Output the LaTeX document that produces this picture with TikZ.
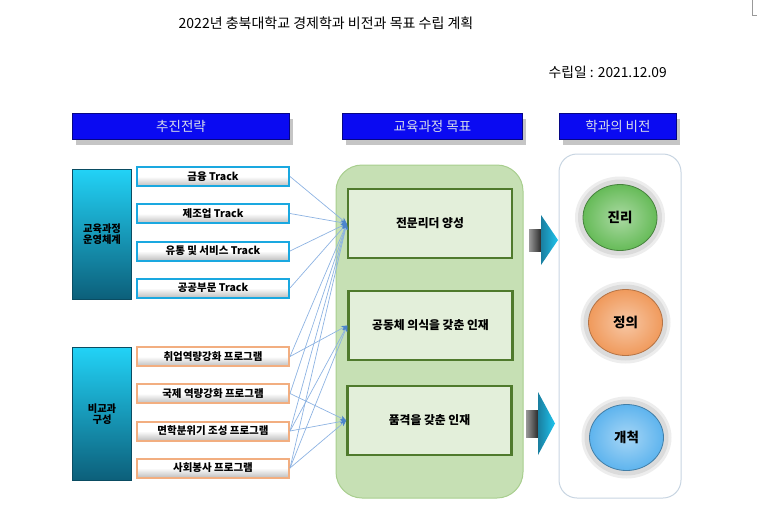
\documentclass[tikz,border=0pt]{standalone}
\usepackage{fontspec}
\setmainfont{Noto Sans CJK KR}
\usetikzlibrary{arrows.meta, shapes.geometric, shadows}
\definecolor{hdblue}{HTML}{0A0AF2}
\definecolor{hdtext}{HTML}{D6DCEA}
\definecolor{trkcyan}{HTML}{1AA8E0}
\definecolor{prgorange}{HTML}{F2AE80}
\definecolor{sidetop}{HTML}{22D2F6}
\definecolor{sidebot}{HTML}{0C5F7A}
\definecolor{goalfill}{HTML}{E3EFDA}
\definecolor{goaldraw}{HTML}{4F7A2C}
\definecolor{areafill}{HTML}{C6E0B4}
\definecolor{areadraw}{HTML}{A8CE8E}
\definecolor{linkblue}{HTML}{8DB3E2}
\definecolor{tipblue}{HTML}{4C85CC}
\definecolor{framegray}{HTML}{C8D5E2}
\definecolor{ballgreen}{HTML}{66BB58}
\definecolor{ballorange}{HTML}{F09A5C}
\definecolor{ballblue}{HTML}{5EB4EE}
\definecolor{arrcyan}{HTML}{1EC4EE}
\definecolor{arrteal}{HTML}{1A7FA0}

\begin{document}
\begin{tikzpicture}[x=1pt, y=-1pt,
  every node/.style={inner sep=0pt},
  header/.style={rectangle, fill=hdblue, draw=hdblue!55!black, line width=0.8pt, minimum height=26pt, text=hdtext, font=\fontsize{13.5}{15}\selectfont, drop shadow={shadow xshift=3pt, shadow yshift=-5pt, fill=black!45, opacity=0.5}},
  side/.style={rectangle, draw=sidebot!80!black, line width=1pt, top color=sidetop, bottom color=sidebot, minimum width=59pt, align=center, font=\fontsize{10.3}{10.8}\selectfont\bfseries},
  track/.style={rectangle, draw=trkcyan, line width=2pt, top color=white, bottom color=black!25, middle color=white, minimum width=152pt, minimum height=19pt, font=\fontsize{10.5}{12}\selectfont\bfseries},
  prog/.style={track, draw=prgorange},
  goal/.style={rectangle, draw=goaldraw, line width=2.5pt, fill=goalfill, minimum width=164pt, minimum height=69pt, font=\fontsize{11.8}{13}\selectfont\bfseries},
  halo/.style={ellipse, minimum width=90pt, minimum height=82pt, fill=black!7},
  halo in/.style={ellipse, minimum width=84pt, minimum height=76pt, fill=black!14},
  ball/.style={ellipse, minimum width=74pt, minimum height=66pt, line width=0.8pt, font=\fontsize{13.5}{15}\selectfont\bfseries},
  link/.style={linkblue, line width=0.7pt, -{Stealth[length=6pt, width=5pt, tipblue]}},
]
\useasboundingbox (0,0) rectangle (757,525);

% Title
\node[font=\fontsize{14}{16}\selectfont] (title) at (326,23) {2022년 충북대학교 경제학과 비전과 목표 수립 계획};
\node[font=\fontsize{13.8}{16}\selectfont, anchor=east] (date) at (667,72) {수립일 : 2021.12.09};
\draw[black!40, line width=0.6pt] (752,0) -- (752,15) -- (757,15);

% Headers
\node[header, minimum width=217pt] (h1) at (181,126.5) {추진전략};
\node[header, minimum width=180pt] (h2) at (432.5,126.5) {교육과정 목표};
\node[header, minimum width=117pt] (h3) at (618,126.5) {학과의 비전};

% Left side
\node[side, minimum height=130pt] (s1) at (102,234.5) {교육과정\\운영체계};
\node[side, minimum height=133pt] (s2) at (102,414) {비교과\\구성};

% Tracks
\node[track] (t1) at (213,176.5) {금융 Track};
\node[track] (t2) at (213,213.5) {제조업 Track};
\node[track] (t3) at (213,251) {유통 및 서비스 Track};
\node[track] (t4) at (213,288) {공공부문 Track};

% Programs
\node[prog] (p1) at (213,356.5) {취업역량강화 프로그램};
\node[prog] (p2) at (213,393.5) {국제 역량강화 프로그램};
\node[prog] (p3) at (213,431) {면학분위기 조성 프로그램};
\node[prog] (p4) at (213,468) {사회봉사 프로그램};

% Goals
\filldraw[fill=areafill, draw=areadraw, line width=1pt, rounded corners=26pt] (336,165) rectangle (523,498);
\node[goal] (g1) at (430,223.5) {전문리더 양성};
\node[goal] (g2) at (430.5,325.5) {공동체 의식을 갖춘 인재};
\node[goal] (g3) at (429.5,420.5) {품격을 갖춘 인재};

% Links
\foreach \s in {t1,t2,t3,t4,p1,p2,p3,p4}
  \draw[link] (\s.east) -- (g1.west);
\foreach \s in {p1,p3,p4}
  \draw[link] (\s.east) -- (g2.west);
\foreach \s in {p2,p3,p4}
  \draw[link] (\s.east) -- (g3.west);

% Block arrows
\shade[left color=black!40, right color=black!85] (529,229) rectangle (541.5,251);
\shade[left color=arrteal, right color=arrcyan] (541,215) -- (558,240) -- (541,265) -- cycle;
\shade[left color=black!40, right color=black!85] (526,410) rectangle (538.5,437);
\shade[left color=arrteal, right color=arrcyan] (538,392) -- (555,423.5) -- (538,455) -- cycle;

% Vision
\draw[framegray, line width=1pt, fill=white, rounded corners=18pt] (559,154) rectangle (681,498);
\node[halo] (r1) at (620,217.5) {};
\node[halo] (r2) at (625.5,322.5) {};
\node[halo] (r3) at (626.5,437.5) {};
\node[halo in] at (r1) {};
\node[halo in] at (r2) {};
\node[halo in] at (r3) {};
\node[ball, draw=ballgreen!70!black, inner color=ballgreen!55!white, outer color=ballgreen] (v1) at (r1) {진리};
\node[ball, draw=ballorange!75!black, inner color=ballorange!55!white, outer color=ballorange] (v2) at (r2) {정의};
\node[ball, draw=ballblue!70!black, inner color=ballblue!55!white, outer color=ballblue] (v3) at (r3) {개척};

\end{tikzpicture}
\end{document}
